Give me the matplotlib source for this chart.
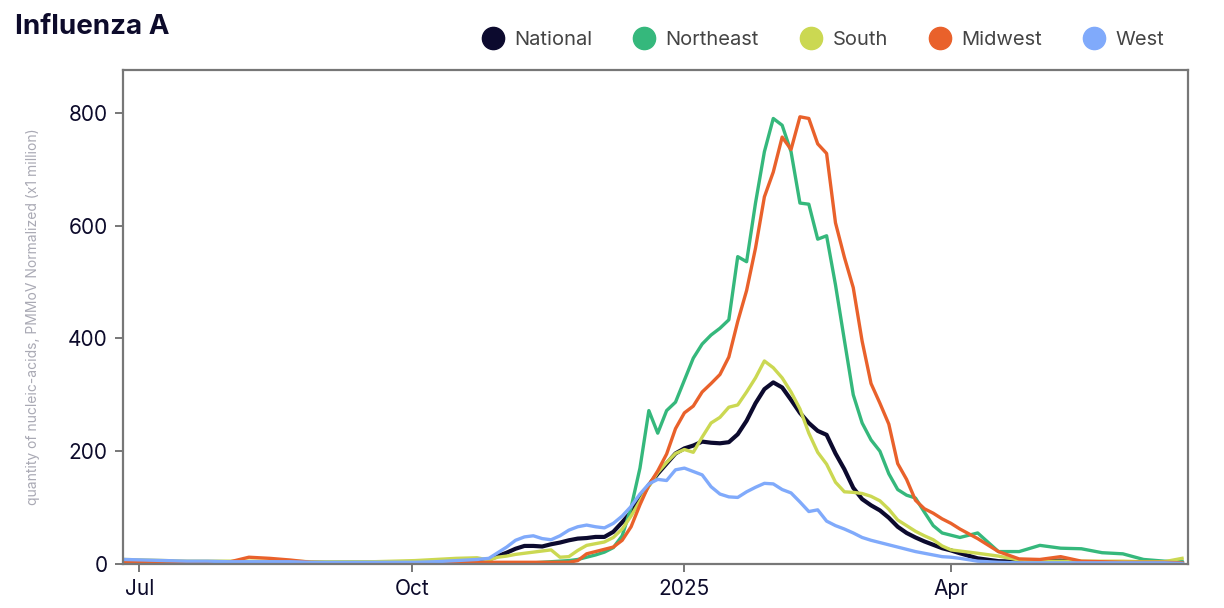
import numpy as np
import pandas as pd
import matplotlib
matplotlib.use("Agg")
import matplotlib.pyplot as plt
from matplotlib.lines import Line2D

# sample dates: weekly in the quiet summer, every 3 days through the season, weekly after
dates = (list(pd.date_range("2024-06-26", "2024-10-23", freq="7D"))
         + list(pd.date_range("2024-10-27", "2025-04-04", freq="3D"))
         + list(pd.date_range("2025-04-10", "2025-06-12", freq="7D"))
         + [pd.Timestamp("2025-06-18")])

national = [3, 3, 3, 3, 3, 3, 3, 3, 3, 2, 2, 2, 2, 3, 3, 4, 5, 6,
            8, 14, 20, 27, 32, 32, 31, 35, 38, 42, 45, 46, 48, 48, 57, 74, 92, 115,
            140, 160, 178, 196, 205, 210, 217, 215, 214, 216, 230, 254, 285, 310,
            322, 313, 291, 268, 250, 236, 229, 196, 168, 135, 115, 104, 95, 82, 66,
            55, 47, 40, 34, 28, 24, 19,
            10, 5, 4, 5, 6, 3, 2, 2, 2, 2, 1]

northeast = [5, 4, 3, 3, 3, 3, 3, 3, 3, 3, 3, 4, 3, 3, 3, 3, 3, 2,
             2, 2, 2, 2, 2, 2, 3, 4, 5, 6, 8, 12, 16, 21, 29, 50, 100, 170,
             272, 232, 272, 287, 326, 365, 390, 406, 418, 433, 545, 536, 640, 731,
             790, 778, 731, 640, 638, 576, 582, 495, 397, 300, 250, 220, 200, 160, 132,
             122, 117, 92, 68, 55, 51, 47,
             55, 22, 22, 33, 28, 27, 20, 18, 8, 5, 4]

south = [8, 7, 6, 5, 5, 5, 5, 5, 5, 4, 4, 4, 4, 5, 6, 8, 10, 11,
         7, 12, 14, 17, 19, 21, 23, 25, 12, 13, 24, 33, 36, 39, 47, 62, 85, 112,
         138, 162, 180, 196, 203, 198, 225, 250, 260, 278, 282, 305, 330, 360,
         348, 330, 305, 275, 232, 198, 177, 145, 128, 127, 125, 120, 112, 97, 78,
         68, 58, 50, 43, 32, 25, 23,
         19, 14, 7, 5, 5, 5, 5, 5, 4, 4, 10]

midwest = [3, 3, 5, 3, 3, 3, 12, 10, 7, 3, 2, 2, 2, 2, 2, 2, 2, 3,
           3, 3, 3, 3, 3, 3, 3, 3, 3, 3, 6, 18, 22, 26, 30, 42, 66, 105,
           140, 165, 195, 240, 268, 280, 305, 320, 336, 367, 430, 485, 560, 651,
           695, 757, 735, 793, 790, 745, 728, 605, 544, 490, 395, 320, 285, 248, 178,
           150, 113, 98, 90, 80, 72, 62,
           45, 22, 9, 8, 13, 5, 4, 3, 3, 3, 2]

west = [8, 7, 6, 5, 5, 4, 4, 4, 4, 3, 3, 3, 3, 3, 3, 4, 6, 8,
        10, 20, 30, 42, 48, 50, 45, 43, 50, 60, 66, 69, 66, 64, 72, 85, 102, 124,
        142, 150, 148, 167, 170, 164, 158, 137, 124, 119, 118, 128, 136, 143,
        142, 132, 126, 110, 93, 96, 76, 68, 62, 55, 47, 42, 38, 34, 30,
        26, 22, 19, 16, 13, 12, 10,
        5, 3, 2, 2, 2, 2, 2, 2, 2, 2, 1]

names = ["National", "Northeast", "South", "Midwest", "West"]
colors = ["#0c0a2e", "#35b87c", "#cbd852", "#e9612b", "#80aafb"]
series = [national, northeast, south, midwest, west]

plt.rcParams['font.family'] = ['Inter', 'DejaVu Sans']

fig = plt.figure(figsize=(12.24, 6.08), dpi=100)
ax = fig.add_axes([0.1005, 0.0724, 0.8701, 0.8125])

for name, col, vals in zip(names, colors, series):
    lw = 3.0 if name == "National" else 2.4
    ax.plot(dates, vals, color=col, lw=lw, solid_joinstyle="round")

ax.set_xlim(pd.Timestamp("2024-06-25 12:00"), pd.Timestamp("2025-06-20"))
ax.set_ylim(0, 876)
ax.set_yticks([0, 200, 400, 600, 800])
ax.set_xticks(pd.to_datetime(["2024-07-01", "2024-10-01", "2025-01-01", "2025-04-01"]))
ax.set_xticklabels(["Jul", "Oct", "2025", "Apr"])

for s in ax.spines.values():
    s.set_color("#777777")
    s.set_linewidth(1.6)
ax.tick_params(axis="both", colors="#777777", labelcolor="#0d0b2b",
               labelsize=15, length=6, width=1.4, direction="out")
ax.tick_params(axis="x", pad=5)
ax.tick_params(axis="y", pad=5)

ax.set_ylabel("quantity of nucleic-acids, PMMoV Normalized (x1 million)",
              color="#a9a9b4", fontsize=10, labelpad=20)

fig.text(0.012, 0.955, "Influenza A", fontsize=20, fontweight="bold",
         color="#0d0b2b", va="center", ha="left")

handles = [Line2D([0], [0], marker="o", color="none", markerfacecolor=c,
                  markeredgecolor=c, markersize=16) for c in colors]
fig.legend(handles, names, loc="center right", bbox_to_anchor=(0.966, 0.934),
           ncol=5, frameon=False, fontsize=14.5, labelcolor="#444444",
           handletextpad=0.45, columnspacing=2.0, handlelength=1.2)

fig.savefig("out.png", dpi=100)
